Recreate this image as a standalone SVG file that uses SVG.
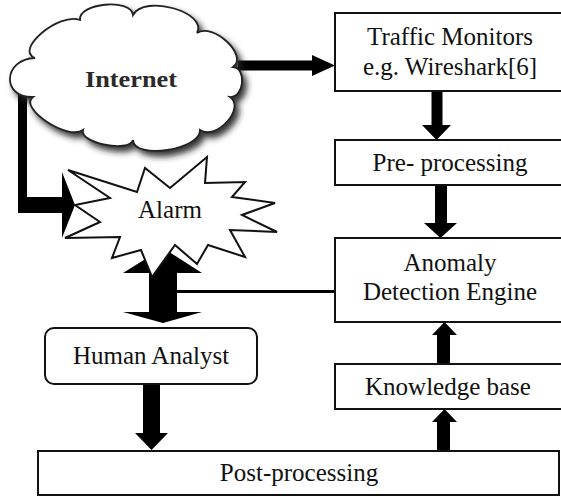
<svg xmlns="http://www.w3.org/2000/svg" width="561" height="496" viewBox="0 0 561 496">
<style>
.box{fill:#fff;stroke:#111;stroke-width:2}
.t{font-family:"Liberation Serif","Times New Roman",serif;font-size:25px;text-anchor:middle;fill:#111}
.arr{fill:#000;stroke:none}
</style>
<defs>
<filter id="sh" x="-20%" y="-20%" width="150%" height="150%">
<feGaussianBlur in="SourceAlpha" stdDeviation="3"/>
<feOffset dx="4" dy="5" result="b"/>
<feFlood flood-color="#222" flood-opacity="0.9"/>
<feComposite in2="b" operator="in" result="s"/>
<feMerge><feMergeNode in="s"/><feMergeNode in="SourceGraphic"/></feMerge>
</filter>
</defs>
<rect width="561" height="496" fill="#fff"/>
<g id="connectors">
<path class="arr" d="M238,60.5 H312 V55 L335,65.5 L312,76 V70.5 H238 Z"/>
<path class="arr" d="M18,85 H27 V197 H62 V172 L75,205 L62,238 V213 H18 Z"/>
<path class="arr" d="M431.5,91 H442.5 V125 H451 L436.5,140 L422,125 H431.5 Z"/>
<path class="arr" d="M435,185 H447 V223 H457 L440.5,238 L424,223 H435 Z"/>
<path class="arr" d="M437,364 V335 H432 L444.5,322 L457,335 H450 V364 Z"/>
<path class="arr" d="M437,451 V422 H432 L444.5,409 L457,422 H450 V451 Z"/>
<path class="arr" d="M143,384 H160 V433 H168 L151.5,450 L135,433 H143 Z"/>
<path class="arr" d="M149,273 H123 L163,248 L202,273 H177 V312 H202 L163,323 L123,312 H149 Z"/>
<line x1="176" y1="291.5" x2="336" y2="291.5" stroke="#000" stroke-width="3"/>
</g>
<g id="internet">
<path filter="url(#sh)" fill="#fff" stroke="#222" stroke-width="1.8" d="M33,97 C1,98 3,59 35,58 C14,50 59,12 80,20 C78,3 131,-2 133,15 C144,-6 208,12 197,33 C213,22 249,56 233,67 C247,68 244,98 230,97 C246,108 216,141 200,130 C201,150 134,160 133,140 C129,153 79,143 83,130 C68,141 18,108 33,97 Z"/>
<text x="131" y="87" font-family="'Liberation Serif','Times New Roman',serif" font-size="24" font-weight="bold" text-anchor="middle" fill="#2a2a2a" textLength="92" lengthAdjust="spacingAndGlyphs">Internet</text>
</g>
<g id="alarm">
<polygon fill="#fff" stroke="#111" stroke-width="2" stroke-linejoin="miter" points="68,170 137,192 145,168 170,188 207,157 205,183 245,182 232,197 275,203 242,215 277,232 230,230 245,257 208,245 197,264 175,245 152,277 141,250 112,258 120,237 65,238 100,222 75,205 110,198"/>
<text class="t" x="170" y="218">Alarm</text>
</g>
<g id="traffic">
<rect class="box" x="335" y="13" width="230" height="78"/>
<text class="t" x="450" y="45">Traffic Monitors</text>
<text class="t" x="450" y="75">e.g. Wireshark[6]</text>
</g>
<g id="preprocessing">
<rect class="box" x="335" y="140" width="230" height="45"/>
<text class="t" x="450" y="171">Pre- processing</text>
</g>
<g id="anomaly">
<rect class="box" x="335" y="238" width="230" height="84"/>
<text class="t" x="450" y="271">Anomaly</text>
<text class="t" x="450" y="300">Detection Engine</text>
</g>
<g id="knowledge">
<rect class="box" x="335" y="364" width="230" height="45"/>
<text class="t" x="448" y="395">Knowledge base</text>
</g>
<g id="human">
<rect class="box" x="45" y="328" width="212" height="56" rx="9"/>
<text class="t" x="151" y="364">Human Analyst</text>
</g>
<g id="postprocessing">
<rect class="box" x="38" y="451" width="521" height="44"/>
<text class="t" x="299" y="481">Post-processing</text>
</g>
</svg>
